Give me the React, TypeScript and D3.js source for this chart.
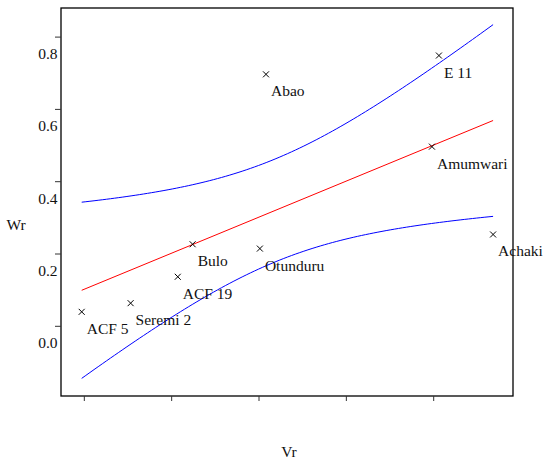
import React from "react";
import * as d3 from "d3";

const names = ["ACF 5", "Seremi 2", "ACF 19", "Bulo", "Otunduru", "Abao", "E 11", "Amumwari", "Achaki"];
const vr = [0.097, 0.153, 0.207, 0.224, 0.301, 0.308, 0.506, 0.498, 0.568];
const wr = [0.04, 0.064, 0.137, 0.227, 0.215, 0.697, 0.749, 0.497, 0.254];
const yTicks = [0.0, 0.2, 0.4, 0.6, 0.8];
const xTicks = [0.1, 0.2, 0.3, 0.4, 0.5];

const W = 545, H = 464;
const L = 61, R = 513, T = 8, B = 396;
const FONT = "'Liberation Serif', 'Times New Roman', serif";

export default function App() {
  const x = d3.scaleLinear().domain([0.0733, 0.5908]).range([L, R]);
  const y = d3.scaleLinear().domain([-0.1928, 0.8805]).range([B, T]);

  const n = vr.length;
  const mx = d3.mean(vr)!;
  const my = d3.mean(wr)!;
  let sxx = 0, sxy = 0;
  for (let i = 0; i < n; i++) {
    sxx += (vr[i] - mx) ** 2;
    sxy += (vr[i] - mx) * (wr[i] - my);
  }
  const b = sxy / sxx;
  const a = my - b * mx;
  let sse = 0;
  for (let i = 0; i < n; i++) sse += (wr[i] - a - b * vr[i]) ** 2;
  const s2 = sse / (n - 2);
  const z = 1.96;
  const x0 = d3.min(vr)!, x1 = d3.max(vr)!;
  const xs = d3.range(0, 101).map((k) => x0 + ((x1 - x0) * k) / 100);
  const hw = (v: number) => z * Math.sqrt(s2 * (1 / n + (v - mx) ** 2 / sxx));
  const line = d3.line<[number, number]>().x((d) => x(d[0])).y((d) => y(d[1]));
  const fit = line([[x0, a + b * x0], [x1, a + b * x1]])!;
  const upper = line(xs.map((v) => [v, a + b * v + hw(v)] as [number, number]))!;
  const lower = line(xs.map((v) => [v, a + b * v - hw(v)] as [number, number]))!;

  return (
    <svg width={W} height={H} style={{ position: "absolute", left: 0, top: 0, background: "#fff" }}>
      <rect x={L} y={T} width={R - L} height={B - T} fill="none" stroke="#000" strokeWidth={1.3} />
      {yTicks.map((t) => (
        <g key={"y" + t}>
          <line x1={55} x2={L} y1={y(t)} y2={y(t)} stroke="#333" strokeWidth={1} />
          <text x={57.5} y={y(t) + 22} textAnchor="end" fontFamily={FONT} fontSize={15.5} fill="#111">
            {d3.format(".1f")(t)}
          </text>
        </g>
      ))}
      {xTicks.map((t) => (
        <line key={"x" + t} x1={x(t)} x2={x(t)} y1={B} y2={B + 5} stroke="#333" strokeWidth={1} />
      ))}
      <text x={16} y={230} textAnchor="middle" fontFamily={FONT} fontSize={15.5} fill="#111">Wr</text>
      <text x={289} y={457} textAnchor="middle" fontFamily={FONT} fontSize={15.5} fill="#111">Vr</text>
      <path d={upper} fill="none" stroke="#0000ff" strokeWidth={1} />
      <path d={lower} fill="none" stroke="#0000ff" strokeWidth={1} />
      <path d={fit} fill="none" stroke="#ff0000" strokeWidth={1} />
      {names.map((nm, i) => {
        const px = x(vr[i]), py = y(wr[i]);
        return (
          <g key={nm}>
            <path d={`M${px - 3},${py - 3}L${px + 3},${py + 3}M${px - 3},${py + 3}L${px + 3},${py - 3}`} stroke="#000" strokeWidth={1} />
            <text x={px + 5} y={py + 22} fontFamily={FONT} fontSize={15.5} fill="#111">{nm}</text>
          </g>
        );
      })}
    </svg>
  );
}
